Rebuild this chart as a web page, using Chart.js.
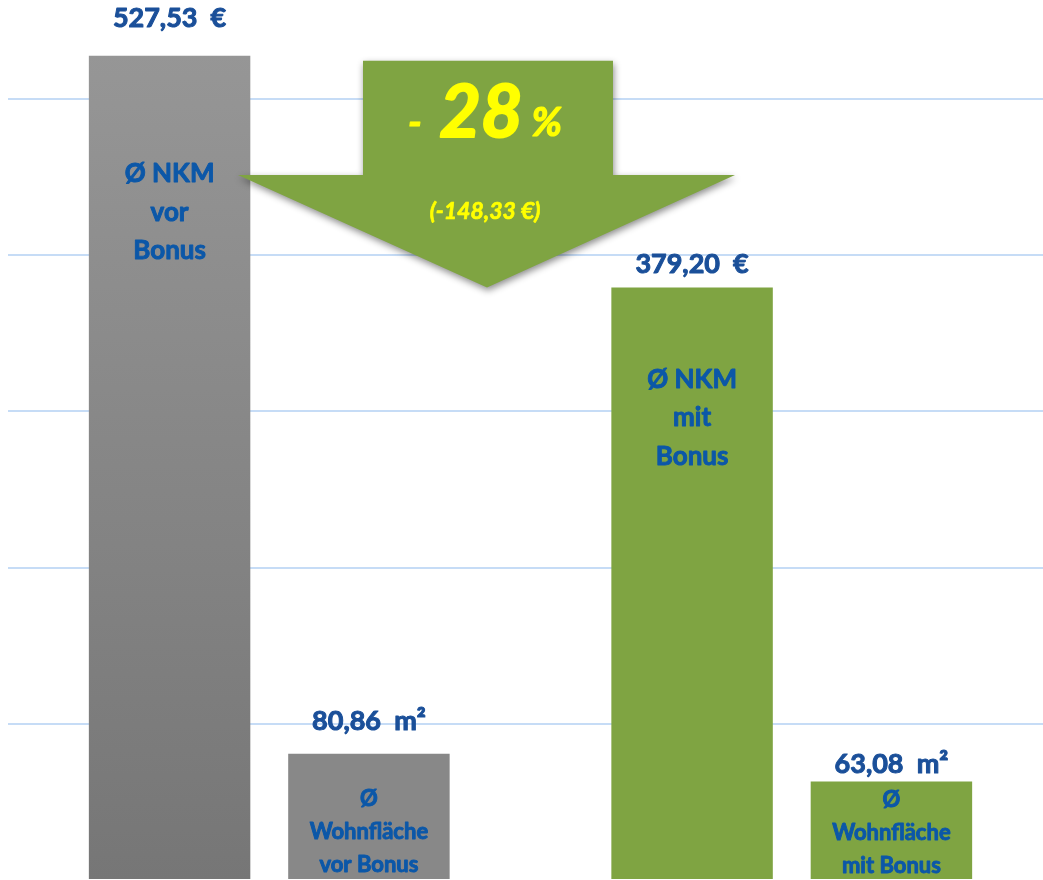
<!DOCTYPE html>
<html>
<head>
<meta charset="utf-8">
<script src="https://cdn.jsdelivr.net/npm/chart.js@4/dist/chart.umd.min.js"></script>
<style>
  html, body { margin: 0; padding: 0; background: #fff; overflow: hidden; }
  #wrap { width: 1053px; height: 880px; position: relative; }
</style>
</head>
<body>
<div id="wrap"><canvas id="bonusChart"></canvas></div>
<script>
// Werte
const groups = ['vor Bonus', 'mit Bonus'];
const nkmValues = [527.53, 379.20];
const flaecheValues = [80.86, 63.08];
const nkmUnit = '€';
const flaecheUnit = 'm²';
const nkmLabels = [['Ø NKM', 'vor', 'Bonus'], ['Ø NKM', 'mit', 'Bonus']];
const flaecheLabels = [['Ø', 'Wohnfläche', 'vor Bonus'], ['Ø', 'Wohnfläche', 'mit Bonus']];
const yTicks = [100, 200, 300, 400, 500];

const GREEN = '#7fa442';
const GRAY = '#888888';
const VALUE_BLUE = '#1a4f99';
const LABEL_BLUE = '#0b57a8';
const FONT = 'Lato, "Open Sans", sans-serif';

// Abstände der Beschriftungen (px) je Balken: [Wert über Balken, erste Zeile im Balken]
const nkmOffsets = [[37, 118], [23, 92]];
const flaecheOffsets = [[32, 45], [17, 18]];

function fmt(v) {
    return v.toFixed(2).replace('.', ',');
}

// fette Schrift etwas kräftiger (Calibri-ähnlich)
function heavyText(ctx, text, x, y, color, stroke) {
    ctx.fillStyle = color;
    ctx.strokeStyle = color;
    ctx.lineWidth = stroke;
    ctx.lineJoin = 'round';
    ctx.strokeText(text, x, y);
    ctx.fillText(text, x, y);
}

function grayGradient(ctx) {
    const area = ctx.chart.chartArea;
    if (!area) return GRAY;
    const g = ctx.chart.ctx.createLinearGradient(0, area.top, 0, area.bottom);
    g.addColorStop(0, '#989898');
    g.addColorStop(1, '#767676');
    return g;
}

const labelPlugin = {
    id: 'labelPlugin',
    afterDatasetsDraw(chart) {
        const ctx = chart.ctx;
        const yScale = chart.scales.y;

        // Pfeil zwischen den NKM-Balken
        const top = yScale.getPixelForValue(nkmValues[0]) + 5;
        const tip = yScale.getPixelForValue(nkmValues[1]);
        const neck = 175;
        ctx.save();
        ctx.shadowColor = 'rgba(0,0,0,0.45)';
        ctx.shadowBlur = 7;
        ctx.shadowOffsetX = 1;
        ctx.shadowOffsetY = 3;
        ctx.fillStyle = GREEN;
        ctx.beginPath();
        ctx.moveTo(363, top);
        ctx.lineTo(613, top);
        ctx.lineTo(613, neck);
        ctx.lineTo(735, neck);
        ctx.lineTo(487, tip);
        ctx.lineTo(238, neck);
        ctx.lineTo(363, neck);
        ctx.closePath();
        ctx.fill();
        ctx.restore();

        const diff = nkmValues[0] - nkmValues[1];
        const pct = Math.round(diff / nkmValues[0] * 100);
        const YEL = '#ffff00';
        ctx.save();
        ctx.textBaseline = 'alphabetic';
        ctx.font = 'italic bold 72px ' + FONT;
        const bigW = ctx.measureText(String(pct)).width;
        ctx.font = 'italic bold 40px ' + FONT;
        const minusW = ctx.measureText('-  ').width;
        const pctW = ctx.measureText(' %').width;
        let x = 485 - (minusW + bigW + pctW) / 2;
        ctx.textAlign = 'left';
        heavyText(ctx, '-  ', x, 136, YEL, 1);
        x += minusW;
        ctx.font = 'italic bold 72px ' + FONT;
        heavyText(ctx, String(pct), x, 137, YEL, 2);
        x += bigW;
        ctx.font = 'italic bold 40px ' + FONT;
        heavyText(ctx, ' %', x, 136, YEL, 1.2);
        ctx.textAlign = 'center';
        ctx.textBaseline = 'middle';
        ctx.font = 'italic bold 23px ' + FONT;
        heavyText(ctx, '(-' + fmt(diff) + ' €)', 485, 212, YEL, 0.7);
        ctx.restore();

        // Werte und Beschriftungen der Balken
        const sets = [
            { values: nkmValues, unit: nkmUnit, labels: nkmLabels, offsets: nkmOffsets, size: 26, lineH: 38.5 },
            { values: flaecheValues, unit: flaecheUnit, labels: flaecheLabels, offsets: flaecheOffsets, size: 22, lineH: 33 }
        ];
        ctx.save();
        ctx.textAlign = 'center';
        ctx.textBaseline = 'middle';
        sets.forEach((set, di) => {
            chart.getDatasetMeta(di).data.forEach((bar, i) => {
                ctx.font = 'bold 27px ' + FONT;
                heavyText(ctx, fmt(set.values[i]) + '  ' + set.unit, bar.x, bar.y - set.offsets[i][0], VALUE_BLUE, 1);
                ctx.font = 'bold ' + set.size + 'px ' + FONT;
                set.labels[i].forEach((line, li) => {
                    heavyText(ctx, line, bar.x, bar.y + set.offsets[i][1] + li * set.lineH, LABEL_BLUE, 0.9);
                });
            });
        });
        ctx.restore();
    }
};

new Chart(document.getElementById('bonusChart'), {
    type: 'bar',
    data: {
        labels: groups,
        datasets: [{
            label: 'Ø NKM',
            data: nkmValues,
            backgroundColor: ctx => ctx.dataIndex === 0 ? grayGradient(ctx) : GREEN,
            categoryPercentage: 0.763,
            barPercentage: 0.81
        }, {
            label: 'Ø Wohnfläche',
            data: flaecheValues,
            backgroundColor: ctx => ctx.dataIndex === 0 ? GRAY : GREEN,
            categoryPercentage: 0.763,
            barPercentage: 0.81
        }]
    },
    options: {
        responsive: true,
        maintainAspectRatio: false,
        animation: false,
        layout: { padding: { left: 8, top: 0, right: 0, bottom: 0 } },
        plugins: {
            legend: { display: false },
            tooltip: { enabled: false }
        },
        scales: {
            x: { display: false },
            y: {
                min: 0,
                max: 563.2,
                ticks: { display: false, stepSize: 100 },
                border: { display: false },
                grid: {
                    drawTicks: false,
                    lineWidth: 2,
                    color: ctx => yTicks.includes(ctx.tick.value) ? '#c6dcf6' : 'rgba(0,0,0,0)'
                }
            }
        }
    },
    plugins: [labelPlugin]
});
</script>
</body>
</html>
